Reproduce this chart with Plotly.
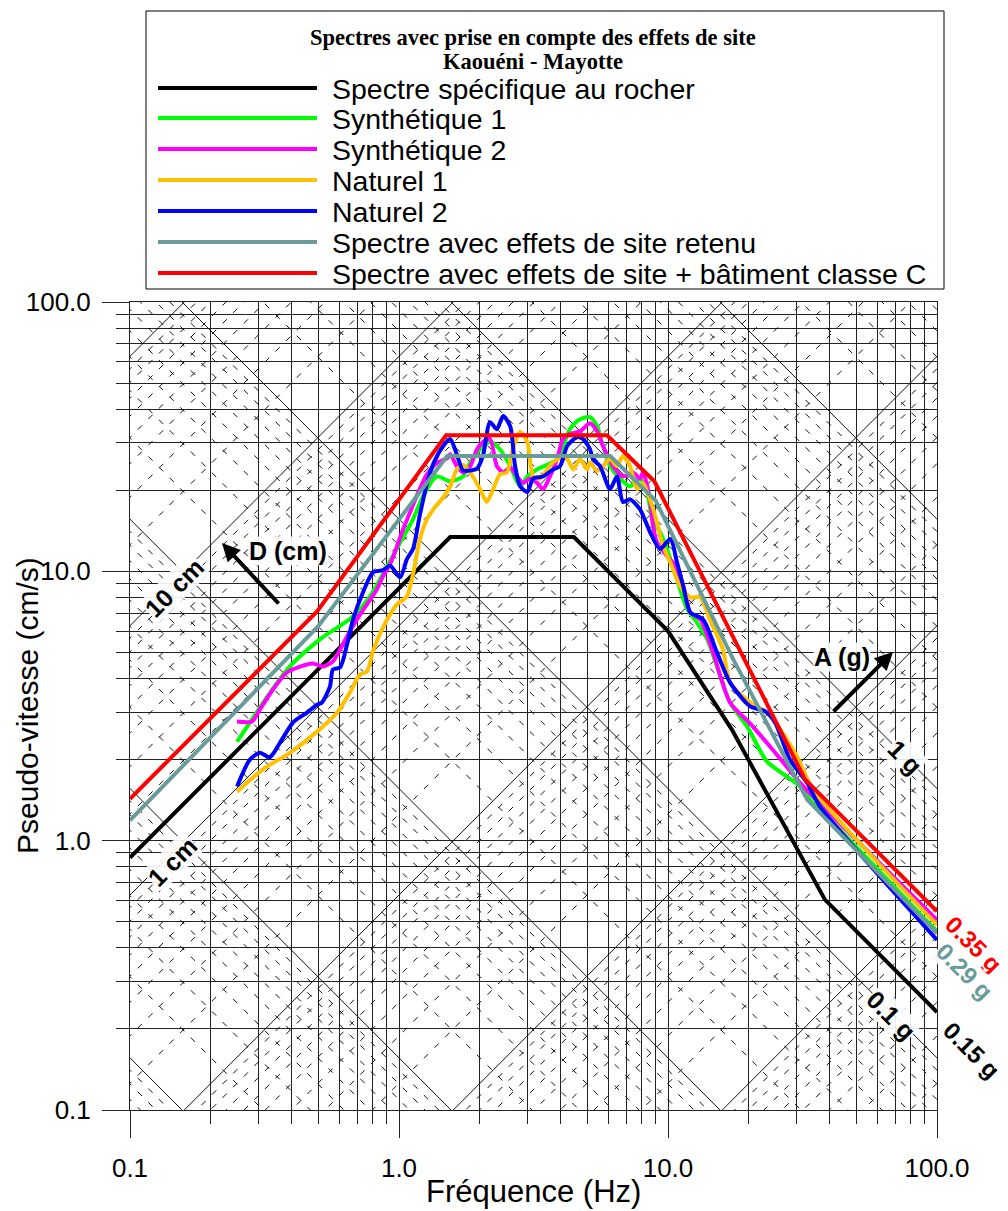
import math
import plotly.graph_objects as go

# ---------------- data ----------------
freq_rock = [0.1, 1.55, 4.47, 10.0, 17.3, 38.3, 100.0]
psv_rock = [0.865, 13.4, 13.4, 6.0, 2.58, 0.604, 0.231]

freq_synth1 = [0.25, 0.39, 0.508, 0.675, 0.78, 0.902, 1.01, 1.127, 1.228, 1.38, 1.55, 1.73, 1.84, 2.0, 2.18,
               2.37, 2.59, 2.82, 3.0, 3.26, 3.87, 4.32, 4.71, 5.13, 5.45, 5.73, 6.09, 6.63, 7.22, 7.87, 8.36,
               8.8, 9.34, 9.91, 10.8, 11.8, 12.8, 14.0, 17.0, 19.7, 23.3, 27.7, 31.0, 34.6, 39.0, 100.0]
psv_synth1 = [2.33, 4.4, 5.59, 6.80, 8.07, 10.4, 12.8, 15.6, 19.0, 22.5, 21.6, 22.5, 25.4, 28.4, 30.2,
              28.4, 24.6, 20.7, 22.5, 23.9, 26.1, 33.7, 36.7, 37.4, 34.6, 29.2, 24.6, 22.1, 20.7, 22.1, 19.7,
              15.2, 14.0, 12.1, 9.34, 7.22, 6.46, 5.59, 3.26, 2.65, 1.97, 1.73, 1.59, 1.38, 1.23, 0.459]

freq_synth2 = [0.25, 0.284, 0.304, 0.340, 0.383, 0.429, 0.479, 0.522, 0.568, 0.604, 0.641, 0.698, 0.760,
               0.828, 0.872, 0.926, 0.983, 1.035, 1.10, 1.17, 1.27, 1.38, 1.51, 1.55, 1.64, 1.73, 1.84,
               1.95, 2.05, 2.18, 2.31, 2.44, 2.59, 2.75, 2.89, 3.07, 3.26, 3.43, 3.64, 3.87, 4.07, 4.32,
               4.71, 5.13, 5.45, 5.73, 6.25, 6.80, 7.41, 7.87, 8.07, 8.57, 8.8, 9.1, 9.91, 10.4, 11.4,
               12.1, 13.2, 14.7, 17.0, 20.2, 23.3, 27.2, 31.0, 100.0]
psv_synth2 = [2.77, 2.77, 3.07, 3.64, 4.21, 4.43, 4.55, 4.43, 4.63, 5.13, 5.73, 6.63, 7.54,
              8.57, 9.58, 10.6, 12.4, 14.3, 16.6, 19.3, 22.9, 25.2, 26.3, 27.2, 24.6, 23.3, 24.6,
              28.4, 30.2, 31.0, 24.6, 23.3, 24.3, 22.5, 21.3, 22.1, 21.3, 20.2, 22.5, 26.1, 31.0, 32.4,
              33.1, 35.5, 33.1, 29.2, 24.6, 22.5, 23.3, 22.1, 23.3, 18.5, 14.7, 12.8, 11.4, 10.8, 8.8,
              7.04, 6.63, 5.0, 3.26, 2.72, 2.31, 1.92, 1.64, 0.508]

freq_nat1 = [0.25, 0.312, 0.393, 0.496, 0.589, 0.657, 0.716, 0.760, 0.80, 0.872, 0.983, 1.07, 1.127, 1.197,
             1.27, 1.36, 1.46, 1.55, 1.64, 1.73, 1.84, 2.0, 2.12, 2.24, 2.37, 2.52, 2.65, 2.82, 3.0, 3.15,
             3.34, 3.55, 3.74, 3.97, 4.22, 4.44, 4.71, 5.0, 5.13, 5.45, 5.73, 6.09, 6.46, 6.80, 7.22, 7.67,
             8.07, 8.57, 9.1, 9.58, 10.2, 11.1, 12.1, 13.2, 14.3, 16.0, 17.0, 20.2, 23.3, 26.1, 30.2,
             34.6, 100.0]
psv_nat1 = [1.52, 1.84, 2.12, 2.54, 2.99, 3.55, 4.14, 4.24, 5.04, 6.19, 7.54, 8.07, 9.75, 13.2,
            15.6, 17.3, 18.8, 20.7, 23.9, 24.8, 23.3, 20.2, 18.1, 20.2, 22.9, 23.3, 28.4, 32.9, 30.2, 22.5,
            22.1, 23.9, 25.4, 26.3, 26.1, 23.9, 26.1, 23.9, 25.4, 23.6, 24.6, 26.1, 24.6, 26.8, 24.6, 20.2,
            21.3, 18.5, 15.2, 12.4, 10.8, 8.8, 8.0, 8.0, 6.63, 5.13, 3.87, 3.26, 2.99, 2.59, 2.05,
            1.55, 0.487]

freq_nat2 = [0.25, 0.279, 0.304, 0.331, 0.361, 0.404, 0.455, 0.496, 0.517, 0.554, 0.568, 0.604, 0.641,
             0.675, 0.735, 0.80, 0.872, 0.926, 1.01, 1.07, 1.127, 1.197, 1.27, 1.34, 1.46, 1.55, 1.64,
             1.73, 1.84, 1.95, 2.05, 2.18, 2.31, 2.44, 2.59, 2.70, 2.82, 3.0, 3.15, 3.43, 3.74, 3.97,
             4.22, 4.59, 4.83, 5.13, 5.26, 5.59, 6.09, 6.46, 6.80, 7.22, 7.87, 8.57, 9.34, 10.2, 10.8,
             11.4, 12.1, 13.5, 15.2, 17.0, 20.2, 23.0, 25.0, 28.4, 32.9, 36.7, 100.0]
psv_nat2 = [1.59, 2.0, 2.12, 2.04, 2.31, 2.75, 2.99, 3.20, 3.26, 3.74, 4.32, 4.40, 5.35,
            6.63, 8.36, 9.91, 10.1, 10.5, 9.5, 11.1, 12.1, 16.3, 21.1, 25.0, 29.2, 31.0, 27.2,
            23.7, 23.7, 24.1, 26.8, 35.8, 33.7, 37.7, 34.6, 24.6, 20.7, 19.7, 22.1, 22.5, 23.9, 24.6,
            29.2, 31.5, 31.0, 28.4, 26.1, 24.6, 20.2, 22.5, 18.1, 18.5, 17.0, 14.0, 12.1, 13.2, 10.8,
            8.8, 7.04, 6.63, 5.0, 3.87, 3.15, 3.02, 2.75, 2.0, 1.64, 1.34, 0.428]

freq_site = [0.1, 0.5, 1.51, 6.1, 9.0, 17.5, 32.9, 100.0]
psv_site = [1.19, 6.24, 26.8, 26.8, 18.3, 4.7, 1.42, 0.453]

freq_batC = [0.1, 0.496, 1.496, 5.93, 8.9, 32.3, 100.0]
psv_batC = [1.43, 7.1, 32.0, 32.0, 21.6, 1.69, 0.547]

series_names = ["Spectre spécifique au rocher", "Synthétique 1", "Synthétique 2", "Naturel 1",
                "Naturel 2", "Spectre avec effets de site retenu",
                "Spectre avec effets de site + bâtiment classe C"]
series_colors = ["#000000", "#00FF00", "#FF00FF", "#FFC000", "#0000FF", "#6A9B9B", "#FF0000"]
series_freq = [freq_rock, freq_synth1, freq_synth2, freq_nat1, freq_nat2, freq_site, freq_batC]
series_psv = [psv_rock, psv_synth1, psv_synth2, psv_nat1, psv_nat2, psv_site, psv_batC]
series_smooth = [False, True, True, True, True, False, False]

# tripartite grid values
disp_decades_cm = [1e-5, 1e-4, 1e-3, 1e-2, 1e-1, 1.0, 10.0, 100.0, 1000.0]
accel_decades_g = [1e-6, 1e-5, 1e-4, 1e-3, 1e-2, 1e-1, 1.0, 10.0, 100.0]
grid_multipliers = [1, 2, 3, 4, 5, 6, 7, 8, 9]
g_cm = 981.0

major_ticks = [0.1, 1, 10, 100]
major_text = ["0.1", "1.0", "10.0", "100.0"]
minor_ticks = [m * d for d in (0.1, 1, 10) for m in range(2, 10)]

# ---------------- layout geometry ----------------
W, H = 1008, 1211
L, R, T, B = 130, 71, 302, 101
PW, PH = W - L - R, H - T - B


def px(x):
    return (x - L) / PW


def py(y):
    return (H - B - y) / PH


fig = go.Figure()

# diagonal grid lines (constant displacement: slope +1, constant acceleration: slope -1)
f_ends = [0.03, 300.0]
solid_x, solid_y, dash_x, dash_y = [], [], [], []
for d in disp_decades_cm:
    for m in grid_multipliers:
        D = m * d
        xs = f_ends
        ys = [2 * math.pi * f * D for f in f_ends]
        if m == 1:
            solid_x += xs + [None]; solid_y += ys + [None]
        else:
            dash_x += xs + [None]; dash_y += ys + [None]
for a in accel_decades_g:
    for m in grid_multipliers:
        A = m * a * g_cm
        xs = f_ends
        ys = [A / (2 * math.pi * f) for f in f_ends]
        if m == 1:
            solid_x += xs + [None]; solid_y += ys + [None]
        else:
            dash_x += xs + [None]; dash_y += ys + [None]

fig.add_trace(go.Scatter(x=dash_x, y=dash_y, mode="lines", hoverinfo="skip", showlegend=False,
                         line=dict(color="#111111", width=1, dash="6px,9px")))
fig.add_trace(go.Scatter(x=solid_x, y=solid_y, mode="lines", hoverinfo="skip", showlegend=False,
                         line=dict(color="#111111", width=1)))

for name, col, fx, vy, sm in zip(series_names, series_colors, series_freq, series_psv, series_smooth):
    fig.add_trace(go.Scatter(x=fx, y=vy, mode="lines", name=name, showlegend=False,
                             line=dict(color=col, width=4, shape="spline" if sm else "linear",
                                       smoothing=0.7 if sm else None)))

tickfont = dict(family="Liberation Sans, Arial, sans-serif", size=26, color="black")
axis_common = dict(
    type="log", range=[-1, 2], tickvals=major_ticks, ticktext=major_text,
    ticks="outside", ticklen=27, tickwidth=1, tickcolor="#222222",
    showgrid=True, gridcolor="#222222", gridwidth=1,
    minor=dict(tickvals=minor_ticks, ticks="outside", ticklen=13, tickwidth=1, tickcolor="#222222",
               showgrid=True, gridcolor="#222222", gridwidth=1),
    zeroline=False, showline=True, mirror=True, linecolor="#222222", linewidth=1,
    tickfont=tickfont, automargin=False,
)
fig.update_xaxes(**axis_common, ticklabelstandoff=8)
fig.update_yaxes(**axis_common, ticklabelstandoff=6)

shapes = []
annotations = []


def label(text, x, y, font, angle=0, anchor="center", bg=None):
    d = dict(x=px(x), y=py(y), xref="paper", yref="paper", showarrow=False, text=text,
             xanchor=anchor, yanchor="middle", textangle=angle, font=font, borderpad=0)
    if bg:
        d["bgcolor"] = bg
    annotations.append(d)


# legend box
shapes.append(dict(type="rect", xref="paper", yref="paper", x0=px(146), x1=px(944), y0=py(289), y1=py(11),
                   line=dict(color="black", width=1), fillcolor="white", layer="above"))
serif = "Liberation Serif, Times New Roman, serif"
sans = "Liberation Sans, Arial, sans-serif"
label("<b>Spectres avec prise en compte des effets de site</b>", 533, 38,
      dict(family=serif, size=22.5, color="black"))
label("<b>Kaouéni - Mayotte</b>", 533, 62, dict(family=serif, size=22.5, color="black"))
entry_y = [88, 118, 149, 180, 211, 242, 273]
for name, col, ey in zip(series_names, series_colors, entry_y):
    shapes.append(dict(type="line", xref="paper", yref="paper", x0=px(158), x1=px(317), y0=py(ey), y1=py(ey),
                       line=dict(color=col, width=4), layer="above"))
    label(name, 331, ey + 1, dict(family=sans, size=28.5, color="black"), anchor="left")

# axis titles
label("Fréquence (Hz)", 533, 1191, dict(family=sans, size=31, color="black"))
label("Pseudo-vitesse (cm/s)", 27, 706, dict(family=sans, size=30, color="black"), angle=-90)

# on-chart labels
labels = [
    ("<b>D (cm)</b>", 288, 551, 0, "black", 25),
    ("<b>A (g)</b>", 842, 657, 0, "black", 25),
    ("<b>10 cm</b>", 174, 588, -45, "black", 25),
    ("<b>1 cm</b>", 172, 862, -45, "black", 25),
    ("<b>1 g</b>", 905, 757, 45, "black", 25),
    ("<b>0.1 g</b>", 891, 1015, 45, "black", 25),
    ("<b>0.15 g</b>", 972, 1050, 45, "black", 24),
    ("<b>0.35 g</b>", 974, 944, 45, "#FF0000", 24),
    ("<b>0.29 g</b>", 965, 971, 45, "#6A9B9B", 24),
]
for txt, lx, ly, ang, col, fs in labels:
    label(txt, lx, ly, dict(family=sans, size=fs, color=col), angle=ang, bg="rgba(255,255,255,0.9)")

# arrows
annotations.append(dict(x=px(222), y=py(543), xref="paper", yref="paper", ax=58, ay=62, text="",
                        showarrow=True, arrowhead=2, arrowsize=0.9, arrowwidth=4, arrowcolor="black"))
annotations.append(dict(x=px(893), y=py(652), xref="paper", yref="paper", ax=-61, ay=61, text="",
                        showarrow=True, arrowhead=2, arrowsize=0.9, arrowwidth=4, arrowcolor="black"))

fig.update_layout(
    width=W, height=H,
    margin=dict(l=L, r=R, t=T, b=B, pad=0),
    paper_bgcolor="white", plot_bgcolor="white",
    shapes=shapes, annotations=annotations, showlegend=False,
)

fig.write_html("out.html")
